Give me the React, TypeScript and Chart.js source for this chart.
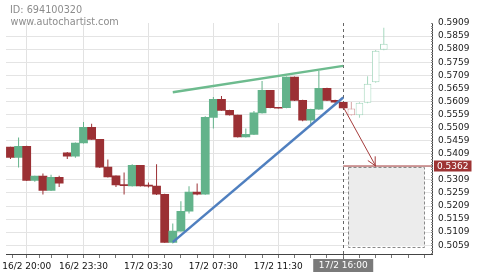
import React, { useEffect, useRef } from "react";
import { Chart, registerables } from "chart.js";

Chart.register(...registerables);

// ---- Data ----
// actual candles, index 0..41 (30-minute slots)
const opens = [0.5434, 0.5395, 0.5437, 0.5307, 0.5323, 0.5269, 0.5319, 0.5412, 0.5400, 0.5450, 0.5510, 0.5464, 0.5358, 0.5324, 0.5290, 0.5286, 0.5365, 0.5288, 0.5285, 0.5254, 0.5070, 0.5113, 0.5189, 0.5262, 0.5254, 0.5548, 0.5617, 0.5575, 0.5557, 0.5473, 0.5483, 0.5565, 0.5651, 0.5586, 0.5585, 0.5702, 0.5613, 0.5537, 0.5579, 0.5659, 0.5613, 0.5606];
const highs = [0.5436, 0.5471, 0.5439, 0.5325, 0.5333, 0.5329, 0.5325, 0.5416, 0.5452, 0.5530, 0.5524, 0.5465, 0.5387, 0.5326, 0.5337, 0.5369, 0.5366, 0.5299, 0.5369, 0.5256, 0.5142, 0.5227, 0.5285, 0.5295, 0.5552, 0.5626, 0.5630, 0.5577, 0.5558, 0.5505, 0.5572, 0.5687, 0.5653, 0.5587, 0.5704, 0.5704, 0.5615, 0.5581, 0.5725, 0.5661, 0.5615, 0.5606];
const lows = [0.5389, 0.5356, 0.5305, 0.5302, 0.5253, 0.5266, 0.5282, 0.5389, 0.5394, 0.5448, 0.5462, 0.5354, 0.5318, 0.5282, 0.5253, 0.5284, 0.5284, 0.5280, 0.5251, 0.5068, 0.5066, 0.5111, 0.5180, 0.5250, 0.5252, 0.5505, 0.5573, 0.5555, 0.5471, 0.5471, 0.5481, 0.5563, 0.5583, 0.5582, 0.5583, 0.5611, 0.5533, 0.5521, 0.5577, 0.5611, 0.5604, 0.5582];
const closes = [0.5395, 0.5437, 0.5307, 0.5323, 0.5269, 0.5319, 0.5296, 0.5400, 0.5450, 0.5510, 0.5464, 0.5358, 0.5320, 0.5290, 0.5287, 0.5365, 0.5286, 0.5285, 0.5254, 0.5070, 0.5113, 0.5189, 0.5262, 0.5254, 0.5548, 0.5617, 0.5575, 0.5557, 0.5473, 0.5483, 0.5565, 0.5651, 0.5585, 0.5583, 0.5702, 0.5613, 0.5537, 0.5579, 0.5659, 0.5613, 0.5606, 0.5584];

// projected candles, index 42..46
const fOpens = [0.5582, 0.5556, 0.5604, 0.5682, 0.5807];
const fHighs = [0.5607, 0.5606, 0.5705, 0.5806, 0.5891];
const fLows = [0.5555, 0.5547, 0.5602, 0.5680, 0.5805];
const fCloses = [0.5556, 0.5604, 0.5677, 0.5803, 0.5830];

// pattern lines
const resistanceX = [20, 41];
const resistanceY = [0.5644, 0.5745];
const supportX = [20, 41];
const supportY = [0.5071, 0.5624];

// forecast arrow and target
const arrowX = [41, 45];
const arrowY = [0.5588, 0.5362];
const arrowHeadX = [44.03, 45, 44.94];
const arrowHeadY = [0.5383, 0.5362, 0.5399];
const targetValue = 0.5362;
const targetLabel = "0.5362";
const targetBoxX = [41.6, 51];
const targetBoxY = [0.5055, 0.5360];

// axes
const xMajorTicks = [2, 9, 17, 25, 33];
const xMajorLabels = ["16/2 20:00", "16/2 23:30", "17/2 03:30", "17/2 07:30", "17/2 11:30"];
const currentIndex = 41;
const currentLabel = "17/2 16:00";
const xMinorTicks = [0.3, 3.6, 5, 7, 11, 13, 15, 19, 21, 23, 27, 29, 31, 35, 37, 39, 41, 43, 45, 47, 49, 51];
const yTickValues = [0.5059, 0.5109, 0.5159, 0.5209, 0.5259, 0.5309, 0.5359, 0.5409, 0.5459, 0.5509, 0.5559, 0.5609, 0.5659, 0.5709, 0.5759, 0.5809, 0.5859, 0.5909];
const yTickLabels = ["0.5059", "0.5109", "0.5159", "0.5209", "0.5259", "0.5309", "0.5359", "0.5409", "0.5459", "0.5509", "0.5559", "0.5609", "0.5659", "0.5709", "0.5759", "0.5809", "0.5859", "0.5909"];
const yMin = 0.50254;
const yMax = 0.5909;
const xMin = -0.55;
const xMax = 52;
const headerId = "ID: 694100320";
const headerSite = "www.autochartist.com";

const RED = "#9b3034";
const GREEN = "#63b38b";
const F_RED = "#d6a3a4";
const F_GREEN = "#a6d8bf";
const FONT = "DejaVu Sans";

export default function App() {
  const ref = useRef<HTMLCanvasElement | null>(null);

  useEffect(() => {
    const canvas = ref.current;
    if (!canvas) return;
    const ctx = canvas.getContext("2d");
    if (!ctx) return;

    const idx = opens.map((_, i) => i);
    const fIdx = fOpens.map((_, i) => opens.length + i);
    const col = (o: number, c: number, up: string, down: string) => (c >= o ? up : down);

    const wickData = idx.map((i) => ({ x: i, y: [lows[i], highs[i]] }));
    const wickColors = idx.map((i) => col(opens[i], closes[i], GREEN, RED));
    const bodyData = idx.map((i) => ({ x: i, y: [opens[i], closes[i]] }));
    const fWickData = fIdx.map((x, i) => ({ x, y: [fLows[i], fHighs[i]] }));
    const fColors = fIdx.map((_, i) => col(fOpens[i], fCloses[i], F_GREEN, F_RED));
    const fBodyData = fIdx.map((x, i) => ({ x, y: [fOpens[i], fCloses[i]] }));

    const pts = (xs: number[], ys: number[]) => xs.map((x, i) => ({ x, y: ys[i] }));

    const overlay = {
      id: "overlay",
      beforeDatasetsDraw(chart: any) {
        const c = chart.ctx;
        const xs = chart.scales.x;
        const ys = chart.scales.y;
        const area = chart.chartArea;
        // target zone box
        const bx1 = xs.getPixelForValue(targetBoxX[0]);
        const bx2 = xs.getPixelForValue(targetBoxX[1]);
        const by1 = ys.getPixelForValue(targetBoxY[1]);
        const by2 = ys.getPixelForValue(targetBoxY[0]);
        c.save();
        c.fillStyle = "#ececec";
        c.fillRect(bx1, by1, bx2 - bx1, by2 - by1);
        c.strokeStyle = "#8a8a8a";
        c.lineWidth = 1;
        c.setLineDash([3, 2]);
        c.strokeRect(Math.round(bx1) + 0.5, Math.round(by1) + 0.5, Math.round(bx2 - bx1), Math.round(by2 - by1));
        // current time dashed line
        const cx = Math.round(xs.getPixelForValue(currentIndex)) + 0.5;
        c.strokeStyle = "#666";
        c.setLineDash([3, 3]);
        c.beginPath();
        c.moveTo(cx, area.top);
        c.lineTo(cx, area.bottom + 5);
        c.stroke();
        c.restore();
      },
      afterDraw(chart: any) {
        const c = chart.ctx;
        const xs = chart.scales.x;
        const ys = chart.scales.y;
        const area = chart.chartArea;
        c.save();
        // y-axis minor ticks
        c.strokeStyle = "#8a8a8a";
        c.lineWidth = 1;
        const ax = Math.round(area.right);
        for (let k = -3; k <= 85; k++) {
          const v = 0.5059 + k * 0.001;
          if (v < yMin || v > yMax + 1e-9) continue;
          const py = Math.round(ys.getPixelForValue(v)) + 0.5;
          c.beginPath();
          c.moveTo(ax - 2, py);
          c.lineTo(ax, py);
          c.stroke();
        }
        // target label on the y axis
        const ty = ys.getPixelForValue(targetValue);
        c.fillStyle = "#9e3434";
        c.fillRect(area.right + 1.5, ty - 5.5, 37.5, 11);
        c.fillStyle = "#ffffff";
        c.font = `9px "${FONT}"`;
        c.textBaseline = "middle";
        c.textAlign = "left";
        c.fillText(targetLabel, area.right + 4.5, ty + 0.5);
        // current time label
        const cx = xs.getPixelForValue(currentIndex);
        c.fillStyle = "#7a7a7a";
        c.fillRect(cx - 30, area.bottom + 5, 60, 13);
        c.fillStyle = "#ffffff";
        c.textAlign = "center";
        c.fillText(currentLabel, cx, area.bottom + 12);
        // header
        c.fillStyle = "#8c8c8c";
        c.textAlign = "left";
        c.font = `9.7px "${FONT}"`;
        c.fillText(headerId, 10, 10.5);
        c.fillText(headerSite, 10.5, 22);
        c.restore();
      },
    };

    const chart = new Chart(ctx, {
      type: "bar",
      data: {
        datasets: [
          {
            type: "bar",
            data: wickData as any,
            backgroundColor: wickColors,
            barThickness: 1,
            grouped: false,
            inflateAmount: 0,
            order: 10,
          } as any,
          {
            type: "bar",
            data: bodyData as any,
            backgroundColor: wickColors,
            barPercentage: 1,
            categoryPercentage: 1,
            grouped: false,
            minBarLength: 1,
            order: 9,
          } as any,
          {
            type: "bar",
            data: fWickData as any,
            backgroundColor: fColors,
            barThickness: 1,
            grouped: false,
            inflateAmount: 0,
            order: 8,
          } as any,
          {
            type: "bar",
            data: fBodyData as any,
            backgroundColor: "#ffffff",
            borderColor: fColors,
            borderWidth: 1,
            borderSkipped: false,
            barPercentage: 0.94,
            categoryPercentage: 1,
            grouped: false,
            inflateAmount: 0,
            order: 7,
          } as any,
          {
            type: "line",
            data: pts(resistanceX, resistanceY),
            borderColor: "#6dbb8e",
            borderWidth: 2.5,
            pointRadius: 0,
            order: 2,
          } as any,
          {
            type: "line",
            data: pts(supportX, supportY),
            borderColor: "#4f7fbf",
            borderWidth: 2.5,
            pointRadius: 0,
            order: 2,
          } as any,
          {
            type: "line",
            data: pts(arrowX, arrowY),
            borderColor: "#a53c3c",
            borderWidth: 1,
            pointRadius: 0,
            order: 1,
          } as any,
          {
            type: "line",
            data: pts(arrowHeadX, arrowHeadY),
            borderColor: "#a53c3c",
            borderWidth: 1,
            pointRadius: 0,
            order: 1,
          } as any,
          {
            type: "line",
            data: pts([currentIndex, xMax], [targetValue, targetValue]),
            borderColor: "#a53c3c",
            borderWidth: 1,
            pointRadius: 0,
            order: 1,
          } as any,
        ],
      },
      options: {
        animation: false,
        responsive: false,
        devicePixelRatio: 1,
        layout: { padding: { left: 6, top: 23, right: 0, bottom: 0 } },
        plugins: { legend: { display: false }, tooltip: { enabled: false } },
        font: { family: FONT },
        scales: {
          x: {
            type: "linear",
            min: xMin,
            max: xMax,
            offset: false,
            grid: {
              offset: false,
              color: (c: any) => (c.tick && xMajorTicks.includes(c.tick.value) ? "#e2e2e2" : "rgba(0,0,0,0)"),
              tickColor: "#777",
              tickLength: 4,
            },
            border: { color: "#444" },
            ticks: {
              autoSkip: false,
              maxRotation: 0,
              minRotation: 0,
              padding: 3,
              color: "#111",
              font: { family: FONT, size: 9 },
              callback: (v: any) => {
                const k = xMajorTicks.indexOf(Number(v));
                return k >= 0 ? xMajorLabels[k] : "";
              },
            },
            afterBuildTicks: (s: any) => {
              s.ticks = [...xMajorTicks, ...xMinorTicks].sort((a, b) => a - b).map((v) => ({ value: v }));
            },
            afterFit: (s: any) => {
              s.height = 21;
            },
          } as any,
          y: {
            position: "right",
            min: yMin,
            max: yMax,
            grid: {
              color: (c: any) => (c.tick && c.tick.value > 0.5905 ? "rgba(0,0,0,0)" : "#e4e4e4"),
              drawTicks: false,
            },
            border: { color: "#444" },
            ticks: {
              autoSkip: false,
              padding: 5.5,
              color: "#222",
              font: { family: FONT, size: 9 },
              callback: (v: any) => {
                const k = yTickValues.findIndex((t) => Math.abs(t - Number(v)) < 1e-7);
                return k >= 0 ? yTickLabels[k] : "";
              },
            },
            afterBuildTicks: (s: any) => {
              s.ticks = yTickValues.map((v) => ({ value: v }));
            },
            afterFit: (s: any) => {
              s.width = 47.5;
            },
          } as any,
        },
      },
      plugins: [overlay],
    } as any);

    return () => chart.destroy();
  }, []);

  return (
    <div style={{ position: "fixed", left: 0, top: 0, width: 480, height: 275, background: "#ffffff" }}>
      <canvas ref={ref} width={480} height={275} style={{ display: "block", width: 480, height: 275 }} />
    </div>
  );
}
